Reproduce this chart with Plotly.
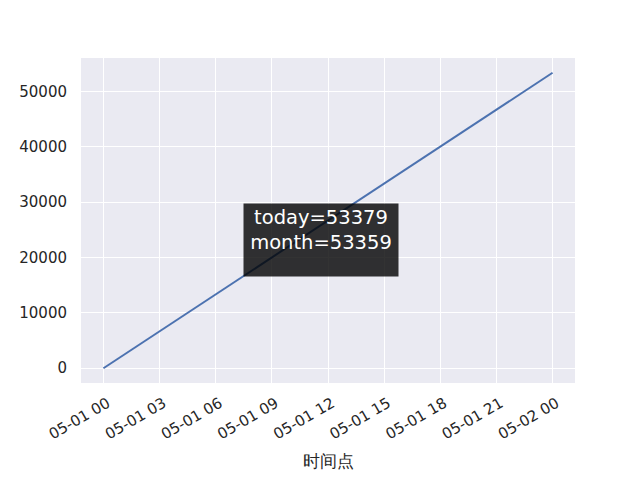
import plotly.graph_objects as go

times = ["2023-05-01 00:00", "2023-05-02 00:00"]
values = [0, 53379]
today_total = 53379
month_total = 53359
x_title = "时间点"

fig = go.Figure()
fig.add_trace(go.Scatter(x=times, y=values, mode="lines",
                         line=dict(color="#4c72b0", width=2), showlegend=False))

fig.add_annotation(x="2023-05-01 11:36", y=23200, xref="x", yref="y",
                   text=f"today={today_total}<br>month={month_total}",
                   showarrow=False, font=dict(family="DejaVu Sans", size=19.5, color="white"),
                   bgcolor="rgba(0,0,0,0.8)", width=150, height=68, valign="top",
                   align="center", borderpad=2)

fig.update_layout(
    width=640, height=480,
    margin=dict(l=73, r=73, t=50, b=105, autoexpand=False),
    paper_bgcolor="white", plot_bgcolor="#eaeaf2",
    font=dict(family="DejaVu Sans", size=15, color="#262626"),
    xaxis=dict(range=["2023-04-30 22:48", "2023-05-02 01:12"], tickformat="%m-%d %H",
               dtick=3 * 3600 * 1000, tick0="2023-05-01 00:00", automargin=False,
               tickangle=-30, showgrid=True, gridcolor="white", gridwidth=1.2,
               zeroline=False, ticks="", showline=False, ticklabelstandoff=8,
               ticklabelshift=4, tickfont=dict(size=15),
               title=dict(text=x_title, font=dict(size=16.5), standoff=13)),
    yaxis=dict(range=[-2669, 56048], dtick=10000, tickformat="d", automargin=False,
               showgrid=True, gridcolor="white",
               gridwidth=1.2, zeroline=False, ticks="", showline=False,
               ticklabelstandoff=13),
)
fig.write_html("out.html")
